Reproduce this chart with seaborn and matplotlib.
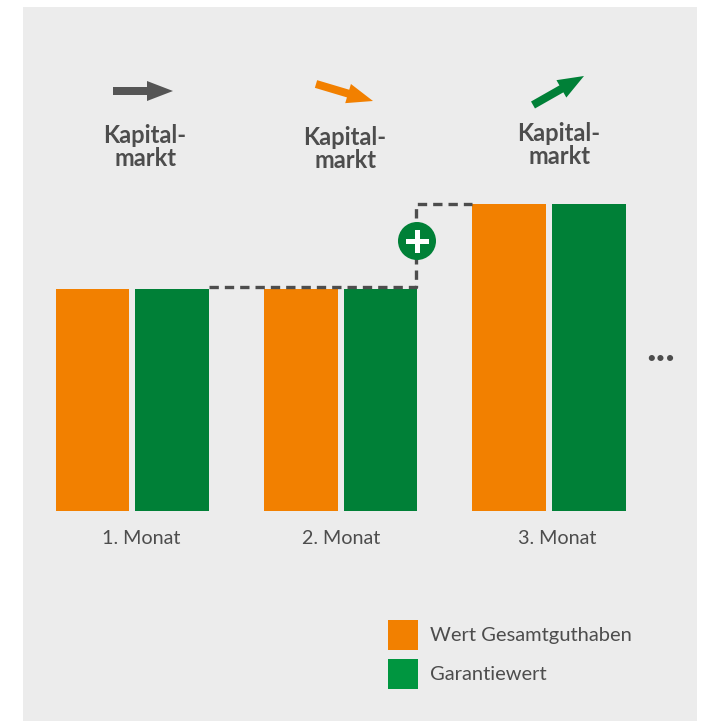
import matplotlib
matplotlib.use("Agg")
import matplotlib.pyplot as plt
from matplotlib.patches import Circle, FancyArrow, Rectangle
import pandas as pd
import seaborn as sns

# values (index: first month = 100)
months = ["1. Monat", "2. Monat", "3. Monat"]
gesamt = [100, 100, 138]
garantie = [100, 100, 138]
series_names = ["Wert Gesamtguthaben", "Garantiewert"]

GRAY_BG = "#ececec"
TEXT = "#4d4d4d"
ORANGE = "#f28000"
GREEN = "#008037"
LEGEND_GREEN = "#009640"

W, H = 705, 721

sns.set_theme(style="white")
plt.rcParams["font.family"] = ["Lato", "DejaVu Sans"]

df = pd.DataFrame({
    "Monat": months * 2,
    "Serie": [series_names[0]] * 3 + [series_names[1]] * 3,
    "Wert": gesamt + garantie,
})

fig = plt.figure(figsize=(W / 100, H / 100), dpi=100, facecolor="white")

# gray panel with the bars
left, right, top, bottom = 23, 697, 7, 721
ax = fig.add_axes([left / W, 1 - bottom / H, (right - left) / W, (bottom - top) / H])
ax.set_facecolor(GRAY_BG)
sns.barplot(data=df, x="Monat", y="Wert", hue="Serie", hue_order=series_names,
            palette=[ORANGE, GREEN], saturation=1, linewidth=0,
            width=0.767, gap=0.075, legend=False, ax=ax)
unit = 208.2
ax.set_xlim((left - 132.4) / unit, (right - 132.4) / unit)
ax.set_ylim((511 - bottom) / 2.225, (511 - top) / 2.225)
ax.set_xticks([])
ax.set_yticks([])
ax.set_xlabel("")
ax.set_ylabel("")
sns.despine(ax=ax, left=True, bottom=True)

# overlay in pixel units for the annotations
ov = fig.add_axes([0, 0, 1, 1])
ov.set_xlim(0, W)
ov.set_ylim(H, 0)
ov.axis("off")

for label, x in zip(months, [141, 341, 557]):
    ov.text(x, 538, label, ha="center", va="center", fontsize=14.2, color=TEXT)

for x, y in [(145, 147), (345, 149), (559, 145)]:
    ov.text(x, y, "Kapital-\nmarkt", ha="center", va="center", fontsize=17, fontweight="bold",
            color=TEXT, linespacing=0.95)

arrows = [((113, 91), (173, 91), "#555555"),
          ((316, 84), (373, 101), ORANGE),
          ((533, 105), (584, 76), GREEN)]
for (x0, y0), (x1, y1), col in arrows:
    ov.add_patch(FancyArrow(x0, y0, x1 - x0, y1 - y0, width=8, head_width=20, head_length=26,
                            length_includes_head=True, color=col, lw=0))

# dashed step between the months
ov.plot([209, 416, 416, 472], [287, 287, 204, 204], color=TEXT, lw=2.4,
        dashes=(2.8, 1.8), solid_joinstyle="miter", zorder=3)
ov.add_patch(Circle((417, 241), 19, color=GREEN, lw=0, zorder=4))
ov.add_patch(Rectangle((405.5, 238.5), 23, 5, color="white", lw=0, zorder=5))
ov.add_patch(Rectangle((414.5, 229.5), 5, 23, color="white", lw=0, zorder=5))

ov.text(660.5, 361, "...", ha="center", va="baseline", fontsize=29, fontweight="bold", color=TEXT)

# legend
for y, col, name in zip([620, 659], [ORANGE, LEGEND_GREEN], series_names):
    ov.add_patch(Rectangle((388, y), 30, 30, color=col, lw=0))
    ov.text(430, y + 15.5, name, ha="left", va="center", fontsize=14.5, color=TEXT)

plt.savefig("out.png", dpi=100)
plt.close()
